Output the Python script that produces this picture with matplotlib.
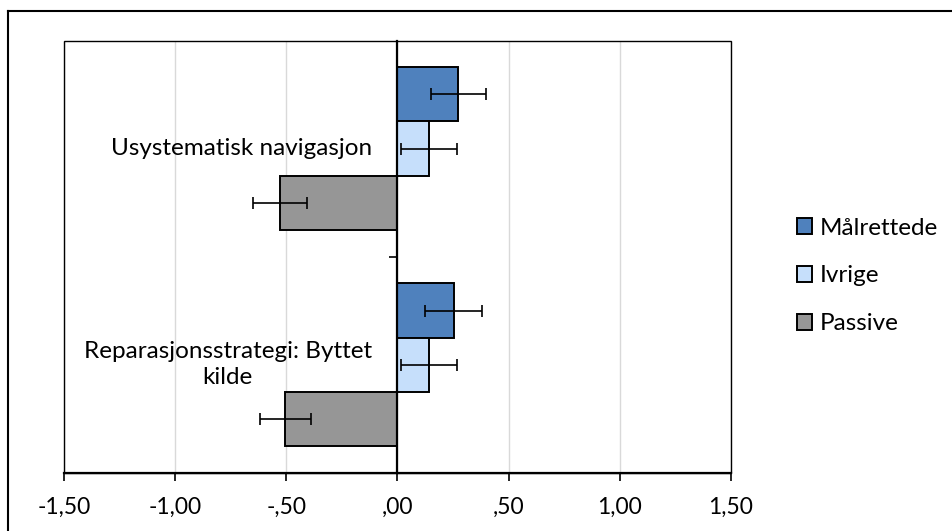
import matplotlib.pyplot as plt
import numpy as np
from matplotlib.lines import Line2D
from matplotlib.patches import Rectangle

plt.rcParams["font.family"] = ["Lato", "DejaVu Sans"]

categories = ["Usystematisk navigasjon", "Reparasjonsstrategi: Byttet\nkilde"]
groups = ["Målrettede", "Ivrige", "Passive"]
colors = ["#4F81BD", "#C6DFFB", "#969696"]

# mean and error per group, one entry per category
means = {
    "Målrettede": [0.274, 0.253],
    "Ivrige": [0.141, 0.141],
    "Passive": [-0.529, -0.504],
}
errors = {
    "Målrettede": [0.122, 0.129],
    "Ivrige": [0.126, 0.126],
    "Passive": [0.123, 0.115],
}

xticks = [-1.5, -1.0, -0.5, 0.0, 0.5, 1.0, 1.5]
xticklabels = ["-1,50", "-1,00", "-,50", ",00", ",50", "1,00", "1,50"]

W, H = 953, 531
fig = plt.figure(figsize=(W / 100, H / 100), dpi=100)
ax = fig.add_axes([64 / W, 1 - 473 / H, (731 - 64) / W, (473 - 40.5) / H])

n_cat = len(categories)
centers = np.arange(n_cat)[::-1] + 0.5
bar_h = 0.251
offsets = [bar_h, 0.0, -bar_h]

for name, color, off in zip(groups, colors, offsets):
    ax.barh(centers + off, means[name], height=bar_h, color=color,
            edgecolor="black", linewidth=1.4, zorder=3, label=name)
    ax.errorbar(means[name], centers + off, xerr=errors[name], fmt="none",
                ecolor="black", elinewidth=1.2, capsize=4.2, capthick=1.2,
                zorder=4)

ax.set_xlim(-1.5, 1.5)
ax.set_ylim(0, n_cat)
ax.set_xticks(xticks)
ax.set_xticklabels(xticklabels, fontsize=16.5)
ax.tick_params(axis="x", direction="out", length=6, width=1.2, pad=11)
ax.grid(axis="x", color="#D9D9D9", linewidth=1.0, zorder=0)
ax.set_axisbelow(True)

# category axis sits on zero with a tick between the two groups
ax.spines["left"].set_position(("data", 0))
ax.spines["left"].set_linewidth(1.6)
ax.spines["left"].set_zorder(5)
ax.set_yticks([1])
ax.set_yticklabels([])
ax.tick_params(axis="y", direction="out", length=6, width=1.2)
ax.spines["bottom"].set_linewidth(1.6)
ax.spines["top"].set_visible(False)
ax.spines["right"].set_visible(False)
ax.add_patch(Rectangle((0, 0), 1, 1, transform=ax.transAxes, fill=False,
                       edgecolor="black", linewidth=1.0, clip_on=False,
                       zorder=1))

for label, c in zip(categories, centers):
    ax.text(-0.115, c, label, ha="right", va="center", multialignment="center",
            fontsize=17.5, linespacing=1.3, zorder=6)

fig.legend(loc="center left", bbox_to_anchor=(797 / W, 1 - 276 / H),
           frameon=False, fontsize=17.5, borderpad=0, borderaxespad=0,
           handlelength=0.62, handleheight=0.62, handletextpad=0.3,
           labelspacing=1.1)

# outer chart border
fig.add_artist(Line2D([8 / W, 8 / W], [0, 1 - 11 / H], color="black",
                      linewidth=1.5, transform=fig.transFigure))
fig.add_artist(Line2D([8 / W, 1], [1 - 11 / H, 1 - 11 / H], color="black",
                      linewidth=1.5, transform=fig.transFigure))

fig.savefig("out.png", dpi=100)
